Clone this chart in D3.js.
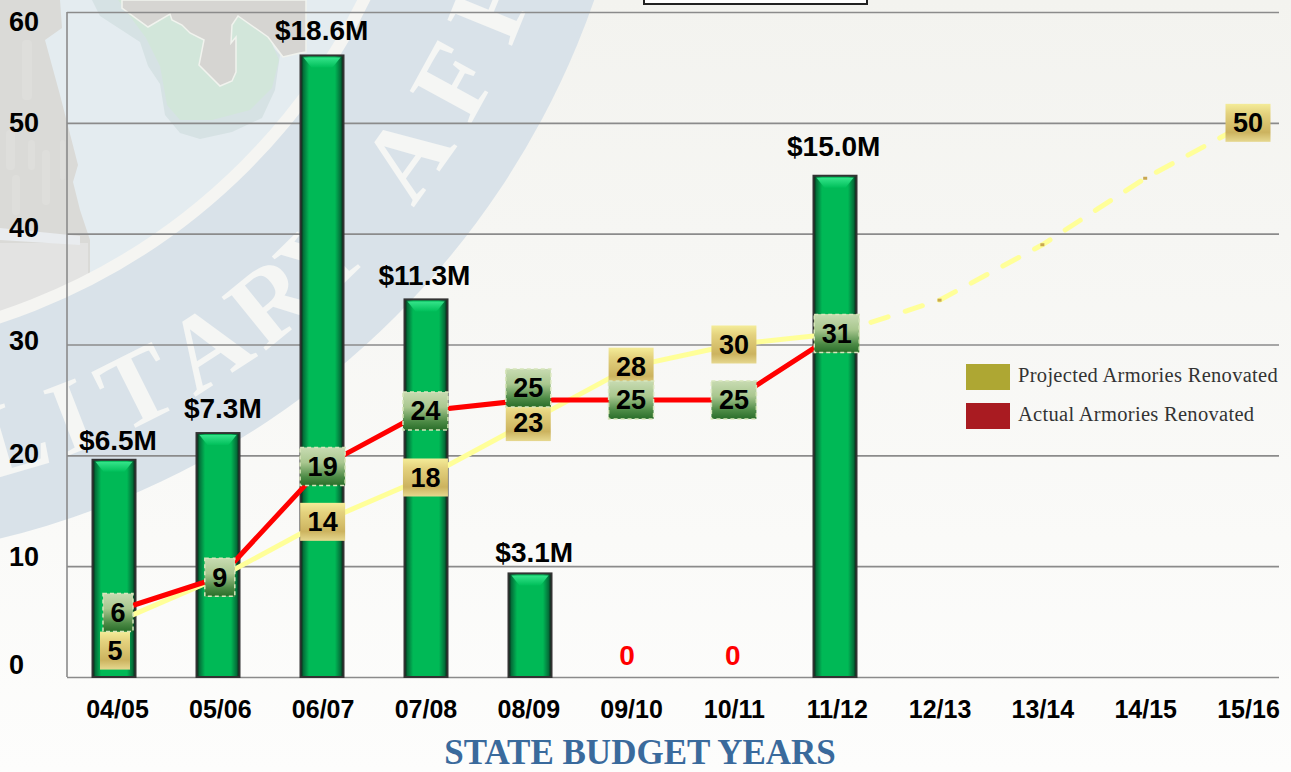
<!DOCTYPE html>
<html>
<head>
<meta charset="utf-8">
<style>
  html, body { margin: 0; padding: 0; background: #fcfcfb; overflow: hidden; }
  svg { display: block; }
  text { font-family: "Liberation Sans", Arial, sans-serif; font-weight: bold; fill: #000; }
  .serif { font-family: "Liberation Serif", serif; }
</style>
<script src="https://cdn.jsdelivr.net/npm/d3@7/dist/d3.min.js"></script>
</head>
<body>
<div id="chart"></div>
<script>
const years = ["04/05", "05/06", "06/07", "07/08", "08/09", "09/10", "10/11", "11/12", "12/13", "13/14", "14/15", "15/16"];
const budget = [6.5, 7.3, 18.6, 11.3, 3.1, 0, 0, 15.0];
const projected = [5, 9, 14, 18, 23, 28, 30, 31, 34, 39, 45, 50];
const actual = [6, 9, 19, 24, 25, 25, 25, 31];
const yTicks = [0, 10, 20, 30, 40, 50, 60];
const legendItems = ["Projected Armories Renovated", "Actual Armories Renovated"];

const W = 1291, H = 772;
const plot = { left: 67, right: 1279, top: 12, bottom: 677 };

const svg = d3.select("#chart").append("svg").attr("width", W).attr("height", H);
const defs = svg.append("defs");

function addGradient(id, stops, horizontal) {
    defs.append("linearGradient")
        .attr("id", id)
        .attr("x1", "0%").attr("y1", "0%")
        .attr("x2", horizontal ? "100%" : "0%")
        .attr("y2", horizontal ? "0%" : "100%")
        .selectAll("stop")
        .data(stops)
        .enter()
        .append("stop")
        .attr("offset", (d) => d[0])
        .attr("stop-color", (d) => d[1]);
}

addGradient("bg", [[0, "#f3f3ef"], [1, "#fdfdfc"]]);
addGradient("bar", [[0, "#04180d"], [0.07, "#04703a"], [0.2, "#00b956"], [0.8, "#00b956"], [0.93, "#04703a"], [1, "#04180d"]], true);
addGradient("bevel", [[0, "#35e48a"], [1, "#00bf5a"]]);
addGradient("gold", [[0, "#f4ec98"], [0.25, "#e4d27e"], [0.75, "#ccb35f"], [1, "#e6d88f"]]);
addGradient("leaf", [[0, "#c8dbb2"], [0.4, "#a9c78f"], [0.78, "#4c8a45"], [1, "#2a6e2a"]]);

// faded seal behind the chart
function drawSeal() {
    const cx = -197, cy = -276;
    const g = svg.append("g");
    g.append("rect").attr("width", W).attr("height", H).attr("fill", "url(#bg)");
    g.append("circle").attr("cx", cx).attr("cy", cy).attr("r", 838).attr("fill", "#d9e2e9");

    defs.append("clipPath").attr("id", "inner")
        .append("circle").attr("cx", cx).attr("cy", cy).attr("r", 625);

    const inner = g.append("g").attr("clip-path", "url(#inner)");
    inner.append("rect").attr("width", W).attr("height", H).attr("fill", "#e4ecf0");

    const line = d3.line();
    inner.append("path").attr("fill", "#d6e2e4").attr("d", line([
        [92, 0], [100, 16], [140, 42], [148, 66], [160, 84], [165, 115], [180, 133], [200, 139],
        [232, 132], [262, 118], [275, 90], [280, 55], [240, 10], [230, 0]
    ]) + "Z");
    inner.append("path").attr("fill", "#d2e6da").attr("d", line([
        [118, 0], [146, 38], [160, 66], [167, 105], [180, 120], [212, 120], [250, 110], [272, 88],
        [279, 60], [262, 20], [240, 0]
    ]) + "Z");
    inner.append("path").attr("fill", "#d6d5d2").attr("stroke", "#f1f3ee").attr("stroke-width", 1.5)
        .attr("d", line([
            [122, 0], [122, 8], [148, 27], [170, 14], [172, 20], [182, 25], [190, 33], [204, 40],
            [199, 65], [220, 86], [232, 81], [236, 72], [236, 37], [231, 43], [232, 25], [238, 16],
            [268, 37], [283, 57], [300, 53], [306, 52], [306, 0]
        ]) + "Z");

    // statue on the left edge
    inner.append("path").attr("fill", "#dadad7").attr("d", line([
        [0, 0], [60, 0], [62, 28], [45, 40], [60, 95], [78, 165], [73, 182], [80, 210], [90, 240],
        [90, 330], [0, 330]
    ]) + "Z");
    [[22, 40, 10, 60], [6, 130, 9, 40], [28, 140, 7, 30], [12, 175, 8, 40], [42, 150, 8, 55], [60, 140, 5, 40]].forEach((s) => {
        inner.append("rect")
            .attr("x", s[0]).attr("y", s[1]).attr("width", s[2]).attr("height", s[3])
            .attr("rx", 4).attr("fill", "#dededb");
    });
    inner.append("rect").attr("y", 243).attr("width", 88).attr("height", 90).attr("fill", "#e3e3e2");
    inner.append("path").attr("fill", "#e9ecef").attr("d", line([[0, 228], [80, 236], [80, 245], [0, 240]]) + "Z");

    g.append("circle").attr("cx", cx).attr("cy", cy).attr("r", 625)
        .attr("fill", "none").attr("stroke", "#f5f5f2").attr("stroke-width", 12);

    // ring lettering, one text per visible letter along the ring
    const ringR = 778;
    const ringLetters = ["L", "I", "T", "A", "R", "Y", "A", "F", "F"];
    const ringAngles = [73.7, 68.8, 63.3, 57, 50.9, 45.7, 35.6, 28.7, 22.2];
    g.selectAll("text.ring")
        .data(ringLetters)
        .enter()
        .append("text")
        .attr("class", "ring serif")
        .attr("text-anchor", "middle")
        .attr("transform", (d, i) => {
            const a = (ringAngles[i] * Math.PI) / 180;
            return `translate(${cx + ringR * Math.cos(a)},${cy + ringR * Math.sin(a)}) rotate(${ringAngles[i] - 90})`;
        })
        .style("font-size", "106px")
        .style("fill", "#f5f6f4")
        .text((d) => d);
}

drawSeal();

const x = d3.scalePoint().domain(years).range([117, 1248]);
const y = d3.scaleLinear().domain([0, 60]).range([plot.bottom, plot.top]);
// bars are in $ millions and the picture gives them their own scale
const yMoney = d3.scaleLinear().domain([0, 19.9]).range([plot.bottom, plot.top]);
// printed tick numbers drift away from their gridlines in the original
const yLabel = d3.scaleLinear().domain(yTicks).range([665, 557, 454, 341, 228, 123, 22]);
// bars do not sit quite on the year labels either
const xBar = d3.scaleLinear().domain([0, 4, 7]).range([114, 530, 835]);

// gridlines
const grid = svg.append("g")
    .attr("transform", `translate(${plot.left},0)`)
    .call(d3.axisLeft(y).tickValues(yTicks).tickSize(-(plot.right - plot.left)).tickFormat(""));
grid.select(".domain").remove();
grid.selectAll("line").attr("stroke", "#8b8b8b").attr("stroke-width", 1.6);
svg.append("line")
    .attr("x1", plot.left).attr("x2", plot.left)
    .attr("y1", plot.top).attr("y2", plot.bottom)
    .attr("stroke", "#8b8b8b").attr("stroke-width", 1.6);

const yAxis = svg.append("g")
    .attr("transform", "translate(9,0)")
    .call(d3.axisLeft(yLabel).tickValues(yTicks).tickSize(0));
yAxis.select(".domain").remove();
yAxis.selectAll("text")
    .attr("x", 0)
    .attr("text-anchor", "start")
    .style("font-size", "27px");

const xAxis = svg.append("g")
    .attr("transform", "translate(0,709)")
    .call(d3.axisBottom(x).tickSize(0));
xAxis.select(".domain").remove();
xAxis.selectAll("text")
    .attr("y", 0)
    .attr("dy", "0.35em")
    .style("font-size", "25px");

// box of the top callout, cut off by the page edge
svg.append("rect")
    .attr("x", 644).attr("y", -4).attr("width", 223).attr("height", 8)
    .attr("fill", "#fff").attr("stroke", "#222").attr("stroke-width", 2);

// funding bars
const barW = 43;
const barData = budget.map((v, i) => ({ v, year: years[i], i }));
const barG = svg.append("g");

barG.selectAll("rect.bar")
    .data(barData.filter((d) => d.v > 0))
    .enter()
    .append("rect")
    .attr("class", "bar")
    .attr("x", (d) => xBar(d.i) - barW / 2)
    .attr("y", (d) => yMoney(d.v))
    .attr("width", barW)
    .attr("height", (d) => plot.bottom - yMoney(d.v))
    .attr("fill", "url(#bar)")
    .attr("stroke", "#333")
    .attr("stroke-width", 2);

barG.selectAll("path.bevel")
    .data(barData.filter((d) => d.v > 0))
    .enter()
    .append("path")
    .attr("class", "bevel")
    .attr("fill", "url(#bevel)")
    .attr("d", (d) => {
        const cx = xBar(d.i), top = yMoney(d.v);
        return d3.line()([
            [cx - barW / 2 + 3, top + 2], [cx + barW / 2 - 3, top + 2],
            [cx + barW / 2 - 11, top + 12], [cx - barW / 2 + 11, top + 12]
        ]) + "Z";
    });

// nudges of the dollar labels as placed in the original
const labelDx = [1, 3, -1, -1, 6, -4, -1, -3];
const labelDy = [-20, -25, -25, -24, -21, 0, 0, -30];

svg.append("g")
    .selectAll("text")
    .data(barData)
    .enter()
    .append("text")
    .attr("x", (d) => x(d.year) + labelDx[d.i])
    .attr("y", (d) => (d.v > 0 ? yMoney(d.v) + labelDy[d.i] : 655))
    .attr("dy", "0.35em")
    .attr("text-anchor", "middle")
    .style("font-size", "28px")
    .style("fill", (d) => (d.v > 0 ? "#000" : "#f00"))
    .text((d) => (d.v > 0 ? `$${d.v.toFixed(1)}M` : "0"));

// armory lines
const lineGen = d3.line().x((d) => x(d.year)).y((d) => y(d.v));
const projectedPts = projected.map((v, i) => ({ v, year: years[i], i }));
const actualPts = actual.map((v, i) => ({ v, year: years[i], i }));
const lastActual = actual.length - 1;

svg.append("path")
    .attr("d", lineGen(projectedPts.slice(0, lastActual + 1)))
    .attr("fill", "none").attr("stroke", "#ffff99").attr("stroke-width", 5);
svg.append("path")
    .attr("d", lineGen(projectedPts.slice(lastActual)))
    .attr("fill", "none").attr("stroke", "#ffff99").attr("stroke-width", 5)
    .attr("stroke-linecap", "round")
    .attr("stroke-dasharray", "18 18");
svg.append("path")
    .attr("d", lineGen(actualPts))
    .attr("fill", "none").attr("stroke", "#ff0000").attr("stroke-width", 5);

// value boxes, shifted where the original moved them off their points
function boxCenter(d, series) {
    let dx = 0, dy = 0;
    if (series === "projected" && d.i === 0) { dx = -2; dy = 29; }
    if (series === "actual" && d.i === 0) { dx = 1; dy = 2; }
    if (series === "actual" && d.i === 4) { dy = -12; }
    return [x(d.year) + dx, y(d.v) + dy];
}

function drawBoxes(points, series, fill, stroke) {
    const g = svg.append("g").selectAll("g")
        .data(points)
        .enter()
        .append("g")
        .attr("transform", (d) => `translate(${boxCenter(d, series)})`);
    g.append("rect")
        .attr("x", (d) => -(d.v < 10 ? 15 : 22.5))
        .attr("y", -19)
        .attr("width", (d) => (d.v < 10 ? 30 : 45))
        .attr("height", 38)
        .attr("fill", fill)
        .attr("stroke", stroke)
        .attr("stroke-width", stroke === "none" ? 0 : 1.5)
        .attr("stroke-dasharray", "4 3");
    g.append("text")
        .attr("text-anchor", "middle")
        .attr("dy", "0.35em")
        .style("font-size", "27px")
        .text((d) => d.v);
}

svg.append("g").selectAll("rect")
    .data(projectedPts.slice(lastActual + 1, -1))
    .enter()
    .append("rect")
    .attr("x", (d) => x(d.year) - 2)
    .attr("y", (d) => y(d.v) - 1.5)
    .attr("width", 4)
    .attr("height", 3)
    .attr("fill", "#c9a850");

// 9 and 31 hide behind the actual boxes with the same value
drawBoxes(projectedPts.filter((d) => d.i <= lastActual || d.i === projected.length - 1), "projected", "url(#gold)", "none");
drawBoxes(actualPts, "actual", "url(#leaf)", "#d8e6bc");

// legend
const legendColors = ["#aea733", "#a91b21"];
const legend = svg.append("g").selectAll("g")
    .data(legendItems)
    .enter()
    .append("g")
    .attr("transform", (d, i) => `translate(966,${364 + i * 39})`);
legend.append("rect")
    .attr("width", 44).attr("height", 26)
    .attr("fill", (d, i) => legendColors[i]);
legend.append("text")
    .attr("class", "serif")
    .attr("x", 52).attr("y", 18)
    .style("font-size", "20.5px")
    .style("letter-spacing", "0.3px")
    .style("font-weight", "normal")
    .style("fill", "#333")
    .text((d) => d);

svg.append("text")
    .attr("class", "serif")
    .attr("x", 640).attr("y", 764)
    .attr("text-anchor", "middle")
    .style("font-size", "35px")
    .style("fill", "#3a6a9c")
    .text("STATE BUDGET YEARS");
</script>
</body>
</html>
